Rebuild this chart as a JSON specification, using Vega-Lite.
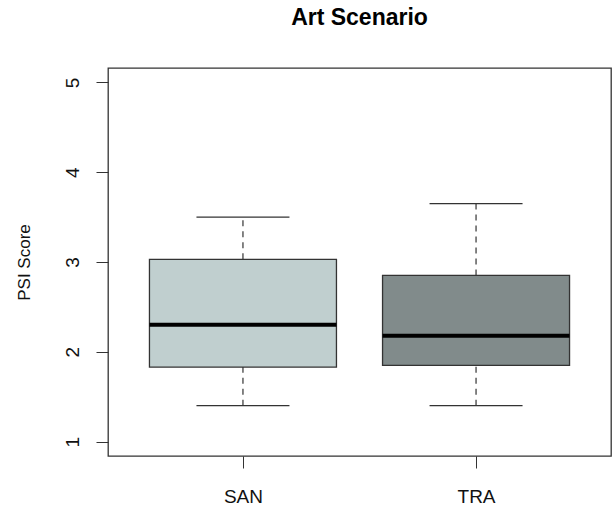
{
  "$schema": "https://vega.github.io/schema/vega-lite/v6.json",
  "width": 503,
  "height": 388,
  "autosize": {"type": "none"},
  "padding": {"left": 108, "top": 68, "right": 1, "bottom": 52},
  "background": "white",
  "config": {
    "font": "Liberation Sans",
    "view": {"stroke": "#333333", "strokeWidth": 1.3},
    "axis": {"grid": false, "domain": false, "tickColor": "#333333", "tickSize": 12, "labelColor": "#111111", "titleColor": "#111111", "labelFont": "Liberation Sans", "titleFont": "Liberation Sans", "titleFontWeight": "normal"}
  },
  "title": {"text": "Art Scenario", "fontSize": 23, "fontWeight": "bold", "font": "Liberation Sans", "anchor": "middle", "frame": "group", "offset": 38, "color": "#000000"},
  "data": {"values": [
    {"group": "SAN", "lower": 1.4, "q1": 1.83, "median": 2.3, "q3": 3.03, "upper": 3.5},
    {"group": "TRA", "lower": 1.4, "q1": 1.85, "median": 2.18, "q3": 2.85, "upper": 3.65}
  ]},
  "encoding": {
    "x": {"field": "group", "type": "nominal", "scale": {"type": "point", "padding": 0.579},
      "axis": {"title": null, "labelAngle": 0, "labelFontSize": 19, "labelPadding": 34, "labelBaseline": "alphabetic"}}
  },
  "layer": [
    {"mark": {"type": "rule", "strokeDash": [6, 5], "color": "#333333", "strokeWidth": 1.2},
     "encoding": {
       "y": {"field": "q3", "type": "quantitative", "scale": {"domain": [0.84, 5.16], "nice": false, "zero": false},
         "axis": {"title": "PSI Score", "values": [1, 2, 3, 4, 5], "format": "d", "labelAngle": -90, "labelAlign": "center", "labelBaseline": "alphabetic", "labelFontSize": 19, "labelPadding": 18, "titleFontSize": 17, "titlePadding": 30}},
       "y2": {"field": "upper"}}},
    {"mark": {"type": "rule", "strokeDash": [6, 5], "color": "#333333", "strokeWidth": 1.2},
     "encoding": {"y": {"field": "lower", "type": "quantitative"}, "y2": {"field": "q1"}}},
    {"mark": {"type": "tick", "size": 93, "thickness": 1.3, "color": "#333333", "opacity": 1},
     "encoding": {"y": {"field": "upper", "type": "quantitative"}}},
    {"mark": {"type": "tick", "size": 93, "thickness": 1.3, "color": "#333333", "opacity": 1},
     "encoding": {"y": {"field": "lower", "type": "quantitative"}}},
    {"mark": {"type": "bar", "size": 187, "stroke": "#333333", "strokeWidth": 1.3, "opacity": 1},
     "encoding": {
       "y": {"field": "q1", "type": "quantitative"}, "y2": {"field": "q3"},
       "fill": {"field": "group", "type": "nominal", "scale": {"domain": ["SAN", "TRA"], "range": ["#C0CFCF", "#818B8B"]}, "legend": null}}},
    {"mark": {"type": "tick", "size": 187, "thickness": 4, "color": "#000000", "opacity": 1},
     "encoding": {"y": {"field": "median", "type": "quantitative"}}}
  ]
}
